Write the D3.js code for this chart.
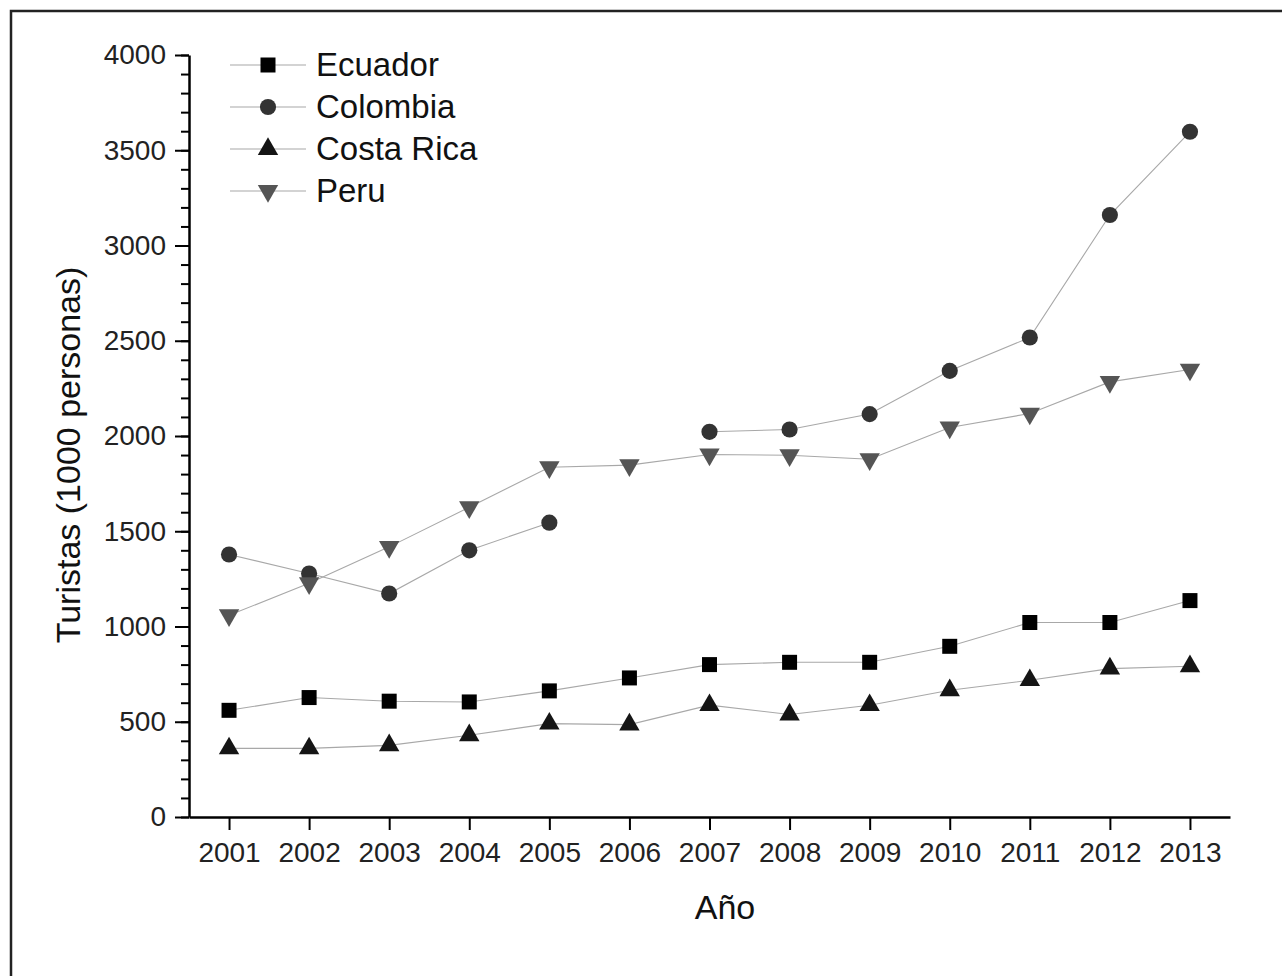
<!DOCTYPE html>
<html>
<head>
<meta charset="utf-8">
<script src="https://cdn.jsdelivr.net/npm/d3@7"></script>
<style>
  body { margin: 0; background: #fff; }
  svg { display: block; font-family: "Liberation Sans", Arial, sans-serif; }
</style>
</head>
<body>
<div id="chart"></div>
<script>
const years = [2001, 2002, 2003, 2004, 2005, 2006, 2007, 2008, 2009, 2010, 2011, 2012, 2013];
const ecuador   = [560, 627, 608, 604, 662, 730, 800, 812, 812, 896, 1021, 1021, 1136];
const colombia  = [1378, 1278, 1173, 1400, 1545, null, 2022, 2034, 2115, 2342, 2517, 3160, 3597];
const costaRica = [360, 360, 376, 429, 490, 485, 587, 538, 587, 665, 718, 779, 791];
const peru      = [1059, 1227, 1418, 1626, 1836, 1847, 1903, 1899, 1878, 2045, 2118, 2284, 2349];
const yTicks = [0, 500, 1000, 1500, 2000, 2500, 3000, 3500, 4000];

const series = [
  { name: "Ecuador",    values: ecuador,   symbol: d3.symbolSquare,   size: 225, rotate: 0,   fill: "#000" },
  { name: "Colombia",   values: colombia,  symbol: d3.symbolCircle,   size: 205, rotate: 0,   fill: "#333" },
  { name: "Costa Rica", values: costaRica, symbol: d3.symbolTriangle, size: 180, rotate: 0,   fill: "#151515" },
  { name: "Peru",       values: peru,      symbol: d3.symbolTriangle, size: 180, rotate: 180, fill: "#555" }
];

const W = 1282, H = 976;
const svg = d3.select("#chart").append("svg").attr("width", W).attr("height", H);

// frame around the figure (right/bottom run off the page)
svg.append("rect")
  .attr("x", 11).attr("y", 11).attr("width", W + 20).attr("height", H + 20)
  .attr("fill", "none").attr("stroke", "#222").attr("stroke-width", 2.5);

const x = d3.scaleLinear().domain([2000.5, 2013.5]).range([189, 1230]);
const y = d3.scaleLinear().domain([0, 4000]).range([817, 55]);

// minor ticks on y
svg.append("g")
  .attr("transform", "translate(189,0)")
  .call(d3.axisLeft(y).tickValues(d3.range(0, 4001, 100)).tickSize(8).tickFormat(""))
  .call(g => g.select(".domain").remove())
  .selectAll("line").attr("stroke", "#000").attr("stroke-width", 2);

// y axis
const yAxis = svg.append("g")
  .attr("transform", "translate(189,0)")
  .call(d3.axisLeft(y).tickValues(yTicks).tickFormat(d3.format("d")).tickSize(14).tickSizeOuter(0).tickPadding(9));
yAxis.select(".domain").attr("stroke", "#000").attr("stroke-width", 2.5);
yAxis.selectAll(".tick line").attr("stroke", "#000").attr("stroke-width", 2);
yAxis.selectAll(".tick text").attr("font-size", 28).attr("fill", "#222")
  .attr("font-family", "Liberation Sans, Arial, sans-serif");

// x axis
const xAxis = svg.append("g")
  .attr("transform", "translate(0,817)")
  .call(d3.axisBottom(x).tickValues(years).tickFormat(d3.format("d")).tickSize(13).tickSizeOuter(0).tickPadding(12));
xAxis.select(".domain").attr("stroke", "#000").attr("stroke-width", 2.5);
xAxis.selectAll(".tick line").attr("stroke", "#000").attr("stroke-width", 2);
xAxis.selectAll(".tick text").attr("font-size", 28).attr("fill", "#222")
  .attr("font-family", "Liberation Sans, Arial, sans-serif");

// axis titles
svg.append("text")
  .attr("transform", "translate(80,455) rotate(-90)")
  .attr("text-anchor", "middle")
  .attr("font-size", 34).attr("fill", "#111")
  .text("Turistas (1000 personas)");

svg.append("text")
  .attr("x", 725).attr("y", 919)
  .attr("text-anchor", "middle")
  .attr("font-size", 34).attr("fill", "#111")
  .text("Año");

// lines
const line = d3.line()
  .defined(d => d.v != null)
  .x(d => x(d.year))
  .y(d => y(d.v));

series.forEach(s => {
  const pts = years.map((yr, i) => ({ year: yr, v: s.values[i] }));
  svg.append("path")
    .datum(pts)
    .attr("d", line)
    .attr("fill", "none")
    .attr("stroke", "#a8a8a8")
    .attr("stroke-width", 1.1);
});

// markers
series.forEach(s => {
  const pts = years.map((yr, i) => ({ year: yr, v: s.values[i] })).filter(d => d.v != null);
  svg.append("g")
    .selectAll("path")
    .data(pts)
    .join("path")
      .attr("d", d3.symbol().type(s.symbol).size(s.size))
      .attr("transform", d => `translate(${x(d.year)},${y(d.v)}) rotate(${s.rotate})`)
      .attr("fill", s.fill);
});

// legend
const legend = svg.append("g");
series.forEach((s, i) => {
  const ly = 65 + i * 42;
  legend.append("line")
    .attr("x1", 230).attr("x2", 306).attr("y1", ly).attr("y2", ly)
    .attr("stroke", "#a8a8a8").attr("stroke-width", 1.1);
  legend.append("path")
    .attr("d", d3.symbol().type(s.symbol).size(s.size)())
    .attr("transform", `translate(268,${ly}) rotate(${s.rotate})`)
    .attr("fill", s.fill);
  legend.append("text")
    .attr("x", 316).attr("y", ly + 11)
    .attr("font-size", 33).attr("fill", "#111")
    .text(s.name);
});
</script>
</body>
</html>
